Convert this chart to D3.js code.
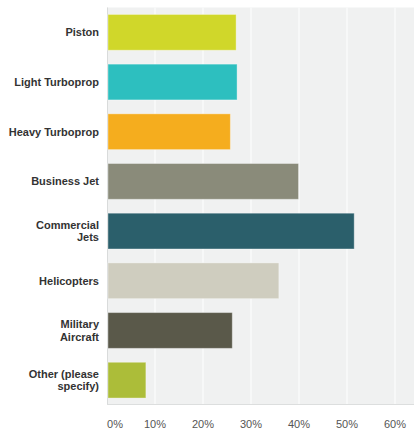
<!DOCTYPE html>
<html>
<head>
<meta charset="utf-8">
<script src="https://cdn.jsdelivr.net/npm/d3@7"></script>
<style>
  body { margin: 0; background: #fff; }
  svg { display: block; font-family: "Liberation Sans", Arial, sans-serif; }
</style>
</head>
<body>
<svg id="chart" width="414" height="431"></svg>
<script>
var categories = ["Piston", "Light Turboprop", "Heavy Turboprop", "Business Jet",
  "Commercial Jets", "Helicopters", "Military Aircraft", "Other (please specify)"];
var labelLines = [["Piston"], ["Light Turboprop"], ["Heavy Turboprop"], ["Business Jet"],
  ["Commercial", "Jets"], ["Helicopters"], ["Military", "Aircraft"], ["Other (please", "specify)"]];
var values = [26.9, 27.1, 25.7, 39.9, 51.5, 35.8, 26.1, 8.1];
var colors = ["#d0d72a", "#2dbfbf", "#f5ad1e", "#8a8b7a", "#2b5f6b", "#cfcdbf", "#5a594a", "#acbd39"];
var ticks = [0, 10, 20, 30, 40, 50, 60];

var svg = d3.select("#chart");
// note: "top" is taken by window.top, so plot edges get their own names
var plotLeft = 107, plotRight = 414, plotTop = 7.5, plotBottom = 405;

var x = d3.scaleLinear().domain([0, 60]).range([plotLeft, 395]);
var y = d3.scaleBand().domain(categories).range([plotTop, plotBottom]).paddingInner(0.28).paddingOuter(0.14);

// plot background
svg.append("rect")
  .attr("x", plotLeft).attr("y", plotTop)
  .attr("width", plotRight - plotLeft).attr("height", plotBottom - plotTop)
  .attr("fill", "#f0f1f1");

// grid
svg.append("g").selectAll("line")
  .data(ticks.slice(1))
  .enter().append("line")
  .attr("x1", function(d) { return x(d); })
  .attr("x2", function(d) { return x(d); })
  .attr("y1", plotTop).attr("y2", plotBottom)
  .attr("stroke", "#fafafa")
  .attr("stroke-width", 1.5);

// axis lines
svg.append("line")
  .attr("x1", plotLeft + 0.5).attr("x2", plotLeft + 0.5)
  .attr("y1", plotTop).attr("y2", plotBottom)
  .attr("stroke", "#d9dbdb");
svg.append("line")
  .attr("x1", plotLeft).attr("x2", plotRight)
  .attr("y1", plotBottom - 0.5).attr("y2", plotBottom - 0.5)
  .attr("stroke", "#dcdede");

// bars
svg.append("g").selectAll("rect")
  .data(categories)
  .enter().append("rect")
  .attr("x", plotLeft + 1)
  .attr("y", function(d) { return y(d); })
  .attr("width", function(d, i) { return x(values[i]) - plotLeft - 1; })
  .attr("height", y.bandwidth())
  .attr("fill", function(d, i) { return colors[i]; })
  .attr("stroke", "#ffffff")
  .attr("stroke-opacity", 0.35)
  .attr("stroke-width", 1);

// category labels
var lab = svg.append("g").selectAll("text")
  .data(categories)
  .enter().append("text")
  .attr("text-anchor", "end")
  .attr("font-size", 11)
  .attr("font-weight", "bold")
  .attr("fill", "#333")
  .attr("x", 99)
  .attr("y", function(d, i) {
    var n = labelLines[i].length;
    return y(d) + y.bandwidth() / 2 + 4 - (n - 1) * 6.3;
  });
lab.each(function(d, i) {
  d3.select(this).selectAll("tspan")
    .data(labelLines[i])
    .enter().append("tspan")
    .attr("x", 99)
    .attr("dy", function(t, j) { return j === 0 ? 0 : 12.6; })
    .text(function(t) { return t; });
});

// x axis tick labels
svg.append("g").selectAll("text")
  .data(ticks)
  .enter().append("text")
  .attr("x", function(d) { return x(d) + (d === 0 ? 8 : 0); })
  .attr("y", 428)
  .attr("text-anchor", "middle")
  .attr("font-size", 11)
  .attr("fill", "#555")
  .text(function(d) { return d + "%"; });
</script>
</body>
</html>
